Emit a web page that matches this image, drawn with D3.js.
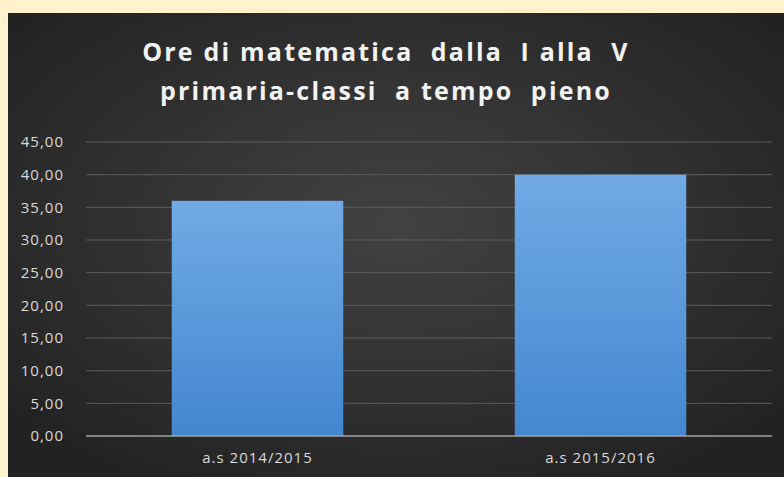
<!DOCTYPE html>
<html>
<head>
<meta charset="utf-8">
<script src="https://cdn.jsdelivr.net/npm/d3@7"></script>
<style>
  html, body { margin: 0; padding: 0; background: #fff2cc; }
  svg { display: block; }
</style>
</head>
<body>
<svg width="784" height="477"></svg>
<script>
// chart data
var categories = ["a.s 2014/2015", "a.s 2015/2016"];
var hours = [36, 40];
var yTicks = [0, 5, 10, 15, 20, 25, 30, 35, 40, 45];
var titleLines = ["Ore di matematica  dalla  I alla  V", "primaria-classi  a tempo  pieno"];

var svg = d3.select("svg"),
    width = +svg.attr("width"),
    height = +svg.attr("height");

var margin = {top: 142, right: 12, bottom: 41, left: 86};

var defs = svg.append("defs");

// dark background with a soft light spot in the middle
var bg = defs.append("radialGradient")
    .attr("id", "bg")
    .attr("cx", "50%").attr("cy", "45%").attr("r", "65%");
bg.append("stop").attr("offset", "0%").attr("stop-color", "#424242");
bg.append("stop").attr("offset", "100%").attr("stop-color", "#222222");

var barGrad = defs.append("linearGradient")
    .attr("id", "bar")
    .attr("x1", 0).attr("y1", 0).attr("x2", 0).attr("y2", 1);
barGrad.append("stop").attr("offset", "0%").attr("stop-color", "#71aae5");
barGrad.append("stop").attr("offset", "100%").attr("stop-color", "#4387cf");

svg.append("rect")
    .attr("x", 8).attr("y", 13)
    .attr("width", width - 8).attr("height", height - 13)
    .attr("fill", "url(#bg)");

var x = d3.scaleBand()
    .domain(categories)
    .range([margin.left, width - margin.right])
    .paddingInner(0.5)
    .paddingOuter(0.25);

var y = d3.scaleLinear()
    .domain([0, 45])
    .range([height - margin.bottom, margin.top]);

// gridlines
svg.append("g")
  .selectAll("line")
  .data(yTicks.filter(function(d) { return d > 0; }))
  .enter().append("line")
    .attr("x1", margin.left)
    .attr("x2", width - margin.right)
    .attr("y1", function(d) { return y(d); })
    .attr("y2", function(d) { return y(d); })
    .attr("stroke", "#5c5c5c")
    .attr("stroke-width", 1);

// y axis labels
var yAxis = svg.append("g")
    .attr("transform", "translate(" + (margin.left - 19) + ",0)")
    .call(d3.axisLeft(y)
      .tickValues(yTicks)
      .tickSize(0)
      .tickFormat(function(d) { return d3.format(".2f")(d).replace(".", ","); }));
yAxis.select(".domain").remove();
yAxis.selectAll("text")
    .attr("fill", "#d9d9d9")
    .attr("font-family", "'Open Sans', sans-serif")
    .attr("font-size", 15)
    .attr("letter-spacing", 1);

// bars
svg.append("g")
  .selectAll("rect")
  .data(hours)
  .enter().append("rect")
    .attr("x", function(d, i) { return x(categories[i]); })
    .attr("y", function(d) { return y(d); })
    .attr("width", x.bandwidth())
    .attr("height", function(d) { return y(0) - y(d); })
    .attr("fill", "url(#bar)");

// baseline
svg.append("line")
    .attr("x1", margin.left)
    .attr("x2", width - margin.right)
    .attr("y1", y(0)).attr("y2", y(0))
    .attr("stroke", "#a3a3a3")
    .attr("stroke-width", 1.5);

// x axis labels
var xAxis = svg.append("g")
    .attr("transform", "translate(0," + y(0) + ")")
    .call(d3.axisBottom(x).tickSize(0).tickPadding(16));
xAxis.select(".domain").remove();
xAxis.selectAll("text")
    .attr("fill", "#d9d9d9")
    .attr("font-family", "'Open Sans', sans-serif")
    .attr("font-size", 15)
    .attr("letter-spacing", 1);

// title
svg.append("text")
    .attr("y", 61)
    .attr("text-anchor", "middle")
    .attr("fill", "#f2f2f2")
    .attr("font-family", "'Open Sans', sans-serif")
    .attr("font-weight", "bold")
    .attr("font-size", 25)
    .attr("letter-spacing", 2.2)
    .style("white-space", "pre")
  .selectAll("tspan")
  .data(titleLines)
  .enter().append("tspan")
    .attr("x", 386)
    .attr("dy", function(d, i) { return i ? 39 : 0; })
    .text(function(d) { return d; });
</script>
</body>
</html>
